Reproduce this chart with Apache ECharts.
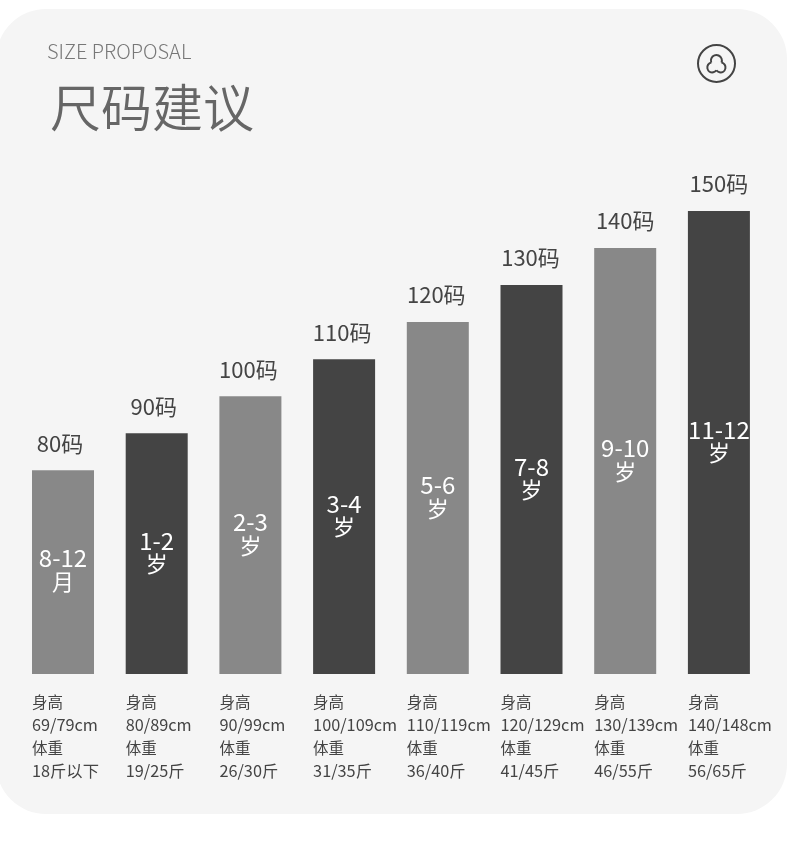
<!DOCTYPE html>
<html><head><meta charset="utf-8">
<style>html,body{margin:0;padding:0;background:#fff}#c{width:790px;height:863px}</style>
<script src="https://cdn.jsdelivr.net/npm/echarts@6/dist/echarts.min.js"></script>
</head><body><div id="c"></div>
<script>
const sizes = [80, 90, 100, 110, 120, 130, 140, 150];
const sizeLabels = ['80码','90码','100码','110码','120码','130码','140码','150码'];
const ageRanges = ['8-12','1-2','2-3','3-4','5-6','7-8','9-10','11-12'];
const ageUnits = ['月','岁','岁','岁','岁','岁','岁','岁'];
const heights = ['69/79cm','80/89cm','90/99cm','100/109cm','110/119cm','120/129cm','130/139cm','140/148cm'];
const weights = ['18斤以下','19/25斤','26/30斤','31/35斤','36/40斤','41/45斤','46/55斤','56/65斤'];
const barColors = ['#888888','#444444','#888888','#444444','#888888','#444444','#888888','#444444'];
const labelNudgeX = [-3,-3,-2,-2,-1.5,-1,0,0];
const FONT = '"Noto Sans CJK SC","Noto Sans",sans-serif';
const details = heights.map((h,i)=>'{a|身高}\n{b|'+h+'}\n{a|体重}\n{b|'+weights[i]+'}');
const deg = d=>d*Math.PI/180;
const lobe = (cx,cy,r,a,b,cw)=>({type:'arc',z:1,silent:true,shape:{cx,cy,r,startAngle:deg(a),endAngle:deg(b),clockwise:cw},style:{fill:'none',stroke:'#444444',lineWidth:2}});
const chart = echarts.init(document.getElementById('c'), null, {renderer:'canvas'});
chart.setOption({
  animation:false,
  backgroundColor:'#ffffff',
  textStyle:{fontFamily:FONT},
  title:[
    {text:'SIZE PROPOSAL',left:42,top:33,textStyle:{fontFamily:FONT,fontSize:20,fontWeight:300,color:'#777777',lineHeight:26}},
    {text:'尺码建议',left:45,top:68,textStyle:{fontFamily:FONT,fontSize:51,fontWeight:350,color:'#666666',lineHeight:70}}
  ],
  graphic:[
    {type:'rect',z:-10,silent:true,shape:{x:-4,y:9,width:791,height:805,r:50},style:{fill:'#f5f5f5'}},
    {type:'circle',z:1,silent:true,shape:{cx:716.5,cy:63.5,r:18.5},style:{fill:'none',stroke:'#444444',lineWidth:2}},
    lobe(716.4,60.5,5.5,158.6,381.4,true),
    lobe(712.3,67.4,5,258.5,34.9,false),
    lobe(720.5,67.4,5,-78.5,145.1,true)
  ],
  grid:[
    {left:16.15,width:749.6,top:211,height:463},
    {left:32,width:655.9,top:211,height:463}
  ],
  xAxis:[
    {type:'category',gridIndex:0,data:sizes.map(String),axisLine:{show:false},axisTick:{show:false},axisLabel:{show:false}},
    {type:'category',gridIndex:1,boundaryGap:false,data:details,axisLine:{show:false},axisTick:{show:false},
     axisLabel:{show:true,interval:0,align:'left',verticalAlign:'top',margin:17,fontFamily:FONT,color:'#444444',hideOverlap:false,showMinLabel:true,showMaxLabel:true,
       rich:{a:{fontFamily:FONT,fontSize:15.5,lineHeight:23,color:'#444444'},b:{fontFamily:FONT,fontSize:16.3,lineHeight:23,color:'#444444',padding:[0,0,1,0]}}}}
  ],
  yAxis:[
    {type:'value',gridIndex:0,min:25,max:150,show:false},
    {type:'value',gridIndex:1,min:0,max:1,show:false}
  ],
  series:[
    {type:'bar',name:'尺码',xAxisIndex:0,yAxisIndex:0,barWidth:62,
     data:sizes.map((v,i)=>({value:v,itemStyle:{color:barColors[i]},label:{offset:[labelNudgeX[i],0]}})),
     label:{show:true,position:'top',distance:16,formatter:p=>sizeLabels[p.dataIndex],fontFamily:FONT,fontSize:22,color:'#444444'}},
    {type:'bar',name:'年龄',xAxisIndex:0,yAxisIndex:0,barWidth:62,barGap:'-100%',itemStyle:{color:'transparent'},
     data:sizes.map((v,i)=>({value:v,label:{offset:[0,i===0?-2.5:-1.5]}})),
     label:{show:true,position:'inside',formatter:p=>'{d|'+ageRanges[p.dataIndex]+'}\n{u|'+ageUnits[p.dataIndex]+'}',color:'#ffffff',
       rich:{d:{fontFamily:FONT,fontSize:24,lineHeight:24,color:'#ffffff'},u:{fontFamily:FONT,fontSize:22,lineHeight:23,color:'#ffffff'}}}},
    {type:'bar',name:'明细',xAxisIndex:1,yAxisIndex:1,data:[],silent:true}
  ]
});
</script></body></html>
